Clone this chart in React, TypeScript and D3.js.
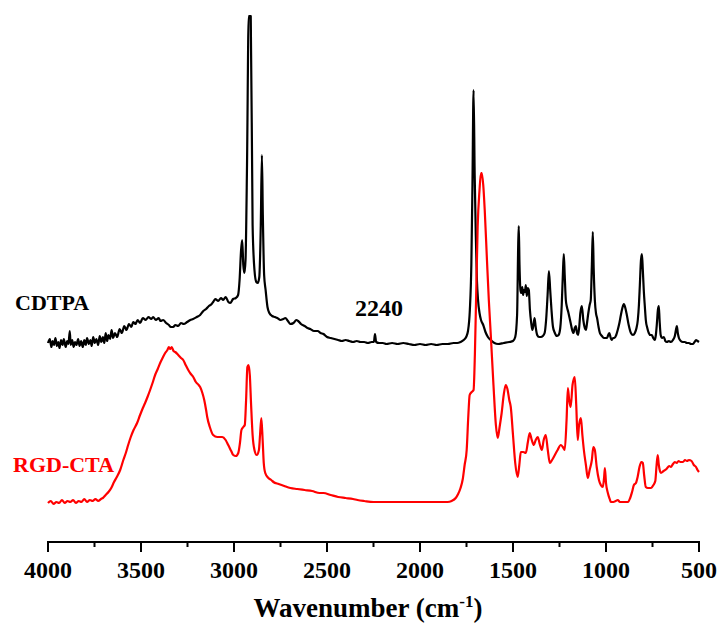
import React from "react";
import * as d3 from "d3";

const majorTicks = [4000, 3500, 3000, 2500, 2000, 1500, 1000, 500];
const minorTicks = [3750, 3250, 2750, 2250, 1750, 1250, 750];

// [wavenumber, intensity]
const cdtpaSpectrum: [number, number][] = [
  [4000,2.02],[3990,2.06],[3982,1.98],[3975,2.04],[3968,2.00],[3960,2.07],[3952,1.99],[3945,2.03],[3938,1.97],[3930,2.05],
  [3922,2.00],[3915,2.06],[3905,1.98],[3897,2.04],[3890,2.01],[3883,2.14],[3878,2.00],[3870,2.05],[3862,1.98],[3855,2.03],
  [3847,2.00],[3838,2.06],[3830,1.99],[3822,2.04],[3813,1.98],[3805,2.05],[3797,2.00],[3790,2.07],[3780,2.01],[3772,2.05],
  [3765,1.99],[3757,2.08],[3748,2.02],[3740,2.06],[3730,2.00],[3722,2.09],[3713,2.03],[3705,2.08],[3697,2.02],[3690,2.12],
  [3682,2.04],[3675,2.10],[3666,2.06],[3658,2.15],[3650,2.07],[3640,2.12],[3628,2.08],[3615,2.16],[3603,2.12],[3590,2.19],
  [3578,2.15],[3565,2.21],[3552,2.18],[3542,2.23],[3530,2.21],[3518,2.25],[3505,2.22],[3490,2.27],[3475,2.25],[3460,2.28],
  [3445,2.26],[3435,2.28],[3420,2.25],[3405,2.27],[3395,2.24],[3381,2.25],[3365,2.22],[3350,2.20],[3340,2.18],[3327,2.18],
  [3315,2.20],[3300,2.19],[3285,2.22],[3270,2.21],[3252,2.23],[3235,2.25],[3220,2.26],[3200,2.28],[3182,2.30],[3165,2.34],
  [3150,2.36],[3135,2.39],[3120,2.41],[3112,2.43],[3100,2.46],[3085,2.44],[3070,2.47],[3058,2.45],[3045,2.48],[3030,2.43],
  [3020,2.42],[3005,2.46],[2990,2.47],[2978,2.50],[2970,2.65],[2962,2.95],[2956,3.05],[2950,2.80],[2944,2.72],[2938,2.85],
  [2930,3.80],[2921,5.29],[2910,5.29],[2900,3.20],[2890,2.75],[2880,2.63],[2872,2.62],[2864,2.68],[2856,3.20],[2850,3.90],
  [2845,3.30],[2838,2.70],[2830,2.55],[2820,2.38],[2810,2.32],[2795,2.29],[2780,2.28],[2767,2.27],[2750,2.25],[2735,2.26],
  [2724,2.27],[2710,2.24],[2697,2.21],[2680,2.22],[2665,2.25],[2655,2.24],[2640,2.21],[2620,2.19],[2605,2.17],[2590,2.16],
  [2570,2.14],[2550,2.14],[2535,2.12],[2519,2.11],[2500,2.08],[2480,2.07],[2460,2.06],[2440,2.05],[2420,2.04],[2400,2.05],
  [2380,2.04],[2360,2.03],[2340,2.04],[2320,2.03],[2300,2.03],[2280,2.02],[2260,2.03],[2248,2.03],[2242,2.11],[2236,2.03],
  [2220,2.02],[2200,2.02],[2180,2.01],[2150,2.02],[2120,2.01],[2090,2.02],[2060,2.01],[2030,2.00],[2000,2.01],[1970,2.00],
  [1940,2.01],[1910,2.00],[1880,2.01],[1850,2.01],[1820,2.02],[1800,2.02],[1782,2.03],[1765,2.05],[1752,2.08],[1742,2.14],
  [1732,2.35],[1724,2.80],[1718,3.60],[1712,4.55],[1706,3.70],[1700,3.10],[1694,2.65],[1688,2.45],[1680,2.32],[1672,2.25],
  [1660,2.20],[1648,2.13],[1635,2.08],[1620,2.05],[1600,2.02],[1580,2.01],[1550,2.02],[1520,2.03],[1500,2.04],[1488,2.08],
  [1478,2.30],[1472,3.00],[1469,3.19],[1465,2.80],[1460,2.55],[1455,2.52],[1450,2.58],[1446,2.50],[1441,2.55],[1436,2.53],
  [1431,2.60],[1426,2.49],[1420,2.57],[1415,2.55],[1409,2.35],[1402,2.22],[1396,2.15],[1390,2.20],[1384,2.27],[1378,2.18],
  [1370,2.10],[1360,2.08],[1350,2.08],[1340,2.09],[1330,2.12],[1322,2.25],[1314,2.50],[1307,2.74],[1300,2.55],[1293,2.35],
  [1285,2.18],[1275,2.12],[1265,2.09],[1255,2.10],[1246,2.17],[1238,2.40],[1232,2.70],[1227,2.91],[1222,2.70],[1216,2.45],
  [1210,2.38],[1203,2.33],[1197,2.28],[1190,2.22],[1182,2.15],[1175,2.12],[1168,2.17],[1162,2.19],[1156,2.12],[1150,2.10],
  [1144,2.18],[1138,2.32],[1130,2.39],[1122,2.25],[1114,2.17],[1108,2.15],[1102,2.22],[1095,2.32],[1088,2.40],[1082,2.45],
  [1076,2.80],[1071,3.13],[1066,2.75],[1060,2.45],[1054,2.32],[1048,2.27],[1040,2.18],[1033,2.12],[1022,2.09],[1012,2.07],
  [1003,2.07],[995,2.07],[988,2.10],[982,2.12],[976,2.08],[970,2.05],[962,2.07],[955,2.07],[945,2.10],[937,2.15],
  [928,2.22],[920,2.30],[912,2.37],[904,2.41],[896,2.37],[888,2.30],[878,2.20],[866,2.12],[855,2.10],[845,2.12],
  [836,2.17],[829,2.25],[823,2.40],[818,2.60],[812,2.85],[807,2.91],[802,2.75],[797,2.55],[791,2.38],[786,2.25],
  [778,2.17],[770,2.12],[762,2.10],[754,2.10],[746,2.07],[738,2.05],[732,2.10],[727,2.20],[721,2.35],[716,2.39],
  [712,2.25],[706,2.10],[698,2.07],[689,2.08],[681,2.04],[673,2.03],[662,2.04],[651,2.03],[640,2.05],[630,2.09],
  [624,2.15],[619,2.19],[614,2.12],[608,2.07],[598,2.04],[587,2.03],[576,2.03],[565,2.02],[554,2.02],[543,2.01],
  [532,2.01],[524,2.03],[516,2.05],[508,2.04],[500,2.03]
];

const rgdSpectrum: [number, number][] = [
  [4000,0.42],[3985,0.44],[3970,0.41],[3955,0.43],[3940,0.42],[3925,0.45],[3910,0.42],[3895,0.44],[3880,0.43],[3865,0.45],
  [3850,0.42],[3835,0.44],[3820,0.43],[3805,0.46],[3790,0.43],[3775,0.45],[3760,0.44],[3745,0.46],[3730,0.44],[3715,0.46],
  [3705,0.47],[3690,0.50],[3675,0.53],[3660,0.57],[3645,0.63],[3630,0.68],[3612,0.75],[3595,0.85],[3580,0.93],[3569,1.00],
  [3555,1.08],[3540,1.15],[3521,1.22],[3505,1.30],[3490,1.37],[3478,1.42],[3465,1.48],[3451,1.55],[3438,1.62],[3424,1.70],
  [3410,1.76],[3397,1.82],[3384,1.87],[3370,1.92],[3358,1.95],[3350,1.98],[3343,1.96],[3335,1.98],[3325,1.94],[3316,1.93],
  [3300,1.90],[3285,1.87],[3273,1.85],[3260,1.80],[3246,1.75],[3232,1.71],[3219,1.68],[3205,1.63],[3190,1.60],[3182,1.58],
  [3170,1.52],[3160,1.45],[3150,1.35],[3144,1.28],[3130,1.18],[3112,1.10],[3090,1.08],[3063,1.08],[3045,1.05],[3031,1.00],
  [3015,0.94],[3004,0.90],[2990,0.89],[2977,0.92],[2968,1.02],[2960,1.15],[2950,1.18],[2942,1.20],[2935,1.45],[2928,1.78],
  [2922,1.80],[2915,1.70],[2908,1.40],[2900,1.10],[2890,0.95],[2878,0.90],[2866,0.95],[2860,1.10],[2853,1.27],[2846,1.05],
  [2840,0.82],[2832,0.72],[2815,0.67],[2800,0.65],[2788,0.63],[2760,0.61],[2730,0.59],[2697,0.57],[2660,0.56],[2620,0.55],
  [2580,0.54],[2540,0.52],[2519,0.52],[2480,0.50],[2440,0.48],[2400,0.47],[2360,0.46],[2336,0.45],[2300,0.44],[2250,0.43],
  [2212,0.43],[2150,0.43],[2100,0.43],[2050,0.43],[2000,0.43],[1950,0.43],[1900,0.43],[1852,0.43],[1830,0.44],[1808,0.47],
  [1795,0.51],[1782,0.57],[1770,0.66],[1760,0.80],[1749,0.95],[1740,1.30],[1733,1.50],[1722,1.53],[1712,1.55],[1705,1.90],
  [1698,2.50],[1690,3.18],[1680,3.55],[1672,3.72],[1668,3.72],[1660,3.60],[1652,3.35],[1640,2.85],[1630,2.45],[1620,2.12],
  [1605,1.60],[1592,1.20],[1582,1.07],[1572,1.18],[1561,1.32],[1550,1.50],[1539,1.60],[1530,1.56],[1520,1.45],[1512,1.38],
  [1500,1.10],[1488,0.82],[1475,0.68],[1466,0.80],[1458,0.93],[1445,0.93],[1431,0.92],[1420,1.03],[1410,1.12],[1399,1.05],
  [1388,1.00],[1378,1.05],[1367,1.08],[1355,1.00],[1345,0.95],[1335,1.05],[1324,1.10],[1313,0.95],[1302,0.82],[1290,0.85],
  [1275,0.90],[1260,0.95],[1243,1.00],[1232,0.98],[1222,0.95],[1212,1.25],[1205,1.57],[1198,1.45],[1190,1.38],[1180,1.60],
  [1168,1.68],[1160,1.40],[1152,1.05],[1145,1.20],[1135,1.27],[1127,1.10],[1119,0.95],[1108,0.80],[1098,0.67],[1088,0.75],
  [1076,0.85],[1068,0.98],[1060,0.95],[1050,0.78],[1038,0.65],[1028,0.60],[1017,0.58],[1010,0.68],[1006,0.77],[1000,0.62],
  [990,0.52],[980,0.46],[974,0.43],[960,0.43],[948,0.44],[937,0.45],[925,0.43],[910,0.43],[895,0.43],[882,0.43],
  [870,0.47],[860,0.53],[850,0.60],[839,0.62],[830,0.68],[820,0.78],[810,0.83],[802,0.82],[795,0.70],[786,0.58],
  [775,0.57],[759,0.57],[745,0.60],[735,0.64],[728,0.80],[722,0.90],[716,0.80],[710,0.74],[705,0.72],[690,0.74],
  [675,0.76],[660,0.79],[651,0.78],[640,0.81],[630,0.83],[620,0.82],[610,0.84],[600,0.83],[586,0.83],[575,0.85],
  [565,0.84],[554,0.85],[540,0.84],[528,0.80],[516,0.78],[508,0.75],[500,0.73]
];

const seriesLabels = ["CDTPA", "RGD-CTA"];
const peakLabel = "2240";

export default function App() {
  const W = 722, H = 626;
  const x = d3.scaleLinear().domain([4000, 500]).range([48, 699]);
  const y = d3.scaleLinear().domain([0, 5.45]).range([545, 0]);
  const line = d3.line<[number, number]>()
    .x(d => x(d[0]))
    .y(d => y(d[1]))
    .curve(d3.curveMonotoneX);
  const font = "'Liberation Serif', 'Times New Roman', serif";
  const axisY = 542;
  return (
    <svg width={W} height={H} style={{ position: "absolute", left: 0, top: 0, background: "#fff" }}>
      <rect width={W} height={H} fill="#fff" />
      <path d={line(cdtpaSpectrum) || ""} fill="none" stroke="#000" strokeWidth={2.2} strokeLinejoin="round" />
      <path d={line(rgdSpectrum) || ""} fill="none" stroke="#ff0000" strokeWidth={2.2} strokeLinejoin="round" />
      <line x1={x(4000) - 1} x2={x(500) + 1} y1={axisY} y2={axisY} stroke="#000" strokeWidth={2} />
      {majorTicks.map(t => (
        <g key={t}>
          <line x1={x(t)} x2={x(t)} y1={axisY} y2={axisY + 10} stroke="#000" strokeWidth={2} />
          <text x={x(t)} y={578} textAnchor="middle" fontFamily={font} fontWeight="bold" fontSize={24} fill="#000">{t}</text>
        </g>
      ))}
      {minorTicks.map(t => (
        <line key={t} x1={x(t)} x2={x(t)} y1={axisY} y2={axisY + 5} stroke="#000" strokeWidth={2} />
      ))}
      <text x={368} y={617} textAnchor="middle" fontFamily={font} fontWeight="bold" fontSize={27} fill="#000">
        Wavenumber (cm<tspan fontSize={17} dy={-10}>-1</tspan><tspan dy={10}>)</tspan>
      </text>
      <text x={15} y={310} fontFamily={font} fontWeight="bold" fontSize={22} fill="#000">{seriesLabels[0]}</text>
      <text x={13} y={472} fontFamily={font} fontWeight="bold" fontSize={22} fill="#ff0000">{seriesLabels[1]}</text>
      <text x={379} y={316} textAnchor="middle" fontFamily={font} fontWeight="bold" fontSize={24} fill="#000">{peakLabel}</text>
    </svg>
  );
}
